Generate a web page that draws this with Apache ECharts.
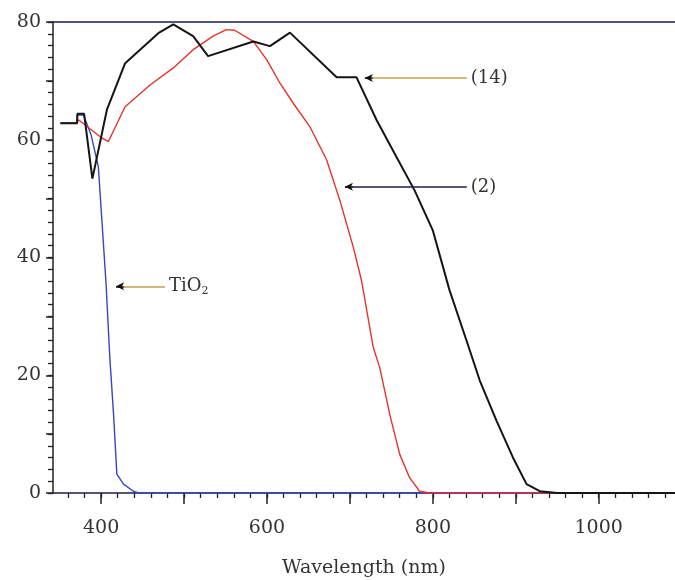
<!DOCTYPE html>
<html>
<head>
<meta charset="utf-8">
<script src="https://cdn.jsdelivr.net/npm/echarts@6/dist/echarts.min.js"></script>
<style>
	html, body { margin: 0; padding: 0; background: #fff; }
	#chart { width: 675px; height: 580px; }
</style>
</head>
<body>
<div id="chart"></div>
<script>
// curve (14)
var wl14 = [351, 371, 371.5, 379.5, 389.5, 407, 429, 469, 487, 511, 529, 583.5, 603.6, 627.7, 684, 708, 732, 756, 778, 800, 820, 840.6, 856.6, 876.7, 896.7, 913, 929, 950, 1092]
var t14 = [62.8, 62.8, 64.4, 64.4, 53.4, 65.1, 73.0, 78.1, 79.6, 77.6, 74.2, 76.7, 75.9, 78.2, 70.6, 70.6, 63.4, 57.1, 51.4, 44.6, 34.5, 25.9, 19.1, 12.3, 6.0, 1.5, 0.3, 0, 0]
// curve (2)
var wl2 = [351, 371, 372.7, 400.8, 408.8, 428.9, 459, 487, 511, 535, 551, 561, 583.5, 599.6, 615.7, 631.7, 651.8, 671.9, 687.9, 704, 714, 728, 736, 748, 760, 772, 784, 796, 1092]
var t2 = [62.8, 62.8, 63.4, 60.3, 59.7, 65.6, 69.3, 72.2, 75.3, 77.6, 78.7, 78.6, 76.7, 73.6, 69.6, 66.2, 62.2, 56.6, 49.7, 41.8, 36.1, 24.8, 21.3, 13.4, 6.6, 2.6, 0.3, 0, 0]
// TiO2
var wlTi = [351, 371, 371.2, 378.7, 388, 396.7, 406, 410.5, 415, 419, 427, 439, 445, 1092]
var tTi = [62.8, 62.8, 64.2, 64.2, 60.8, 55.4, 35.5, 23, 13.4, 3.2, 1.5, 0.3, 0, 0]

var xLabels = [400, 600, 800, 1000]
var xMajorTicks = [400, 500, 600, 700, 800, 900, 1000]
var xMinorTicks = []
for (var v = 360; v <= 1080; v += 20) xMinorTicks.push(v)

function pairs(xs, ys) {
	var out = []
	for (var i = 0; i < xs.length; i++) out.push([xs[i], ys[i]])
	return out
}

var serif = 'DejaVu Serif'
var chart = echarts.init(document.getElementById('chart'))

// black head + coloured shaft, label at the far end
function arrow(x1, x2, y, color, text) {
	return [
		[
			{ coord: [x1, y], symbol: 'arrow', symbolSize: [6, 8], lineStyle: { color: '#111', width: 1.6 } },
			{ coord: [x1 + 10, y], symbol: 'none' }
		],
		[
			{ coord: [x1 + 9, y], symbol: 'none', lineStyle: { color: color, width: 1.6 } },
			{ coord: [x2, y], symbol: 'none', label: { show: true, position: 'end', distance: 4, formatter: text } }
		]
	]
}

var option = {
	animation: false,
	grid: { left: 53, top: 22, right: 0, bottom: 87, containLabel: false, outerBoundsMode: 'none' },
	xAxis: [
		{
			type: 'value', min: 342, max: 1092,
			axisLine: { lineStyle: { color: '#1b1f4a', width: 1.5 } },
			axisTick: { show: true, customValues: xMinorTicks, length: 5, lineStyle: { color: '#222', width: 1.3 } },
			axisLabel: { customValues: xLabels, fontFamily: serif, fontSize: 19, color: '#333', margin: 26, formatter: function (val) { return String(val) } },
			splitLine: { show: false },
			name: 'Wavelength (nm)', nameLocation: 'middle', nameGap: 66,
			nameTextStyle: { fontFamily: serif, fontSize: 19, color: '#333' }
		},
		{
			type: 'value', min: 342, max: 1092, position: 'bottom',
			axisLine: { show: false },
			axisTick: { show: true, customValues: xMajorTicks, length: 11, lineStyle: { color: '#222', width: 1.5 } },
			axisLabel: { show: false },
			splitLine: { show: false }
		},
		{
			type: 'value', min: 342, max: 1092, position: 'top',
			axisLine: { show: true, lineStyle: { color: '#1b1f4a', width: 1.5 } },
			axisTick: { show: false },
			axisLabel: { show: false },
			splitLine: { show: false }
		}
	],
	yAxis: [
		{
			type: 'value', min: 0, max: 80, interval: 2,
			axisLine: { show: true, lineStyle: { color: '#222', width: 1.5 } },
			axisTick: { show: true, length: 5, lineStyle: { color: '#222', width: 1.3 } },
			axisLabel: {
				fontFamily: serif, fontSize: 19, color: '#333', margin: 12,
				formatter: function (val) { return val % 20 === 0 ? String(val) : '' }
			},
			splitLine: { show: false }
		},
		{
			type: 'value', min: 0, max: 80, interval: 10, position: 'left',
			axisLine: { show: false },
			axisTick: { show: true, length: 7, lineStyle: { color: '#222', width: 1.5 } },
			axisLabel: { show: false },
			splitLine: { show: false }
		}
	],
	series: [
		{
			name: 'TiO2', type: 'line', showSymbol: false, data: pairs(wlTi, tTi),
			lineStyle: { color: '#3347c4', width: 1.4 }
		},
		{
			name: '(2)', type: 'line', showSymbol: false, data: pairs(wl2, t2),
			lineStyle: { color: '#e8322a', width: 1.4 }
		},
		{
			name: '(14)', type: 'line', showSymbol: false, data: pairs(wl14, t14),
			lineStyle: { color: '#151515', width: 2 },
			markLine: {
				silent: true, animation: false,
				lineStyle: { type: 'solid' },
				label: {
					fontFamily: serif, fontSize: 18, color: '#333',
					rich: { sub: { fontFamily: serif, fontSize: 11, color: '#333', verticalAlign: 'bottom', padding: [10, 0, 0, 0] } }
				},
				data: [].concat(
					arrow(718, 841, 70.5, '#c4a24a', '(14)'),
					arrow(694, 841, 52.0, '#1c1f55', '(2)'),
					arrow(418, 477, 35.1, '#c4a24a', 'TiO{sub|2}')
				)
			}
		}
	]
}
chart.setOption(option)
</script>
</body>
</html>
